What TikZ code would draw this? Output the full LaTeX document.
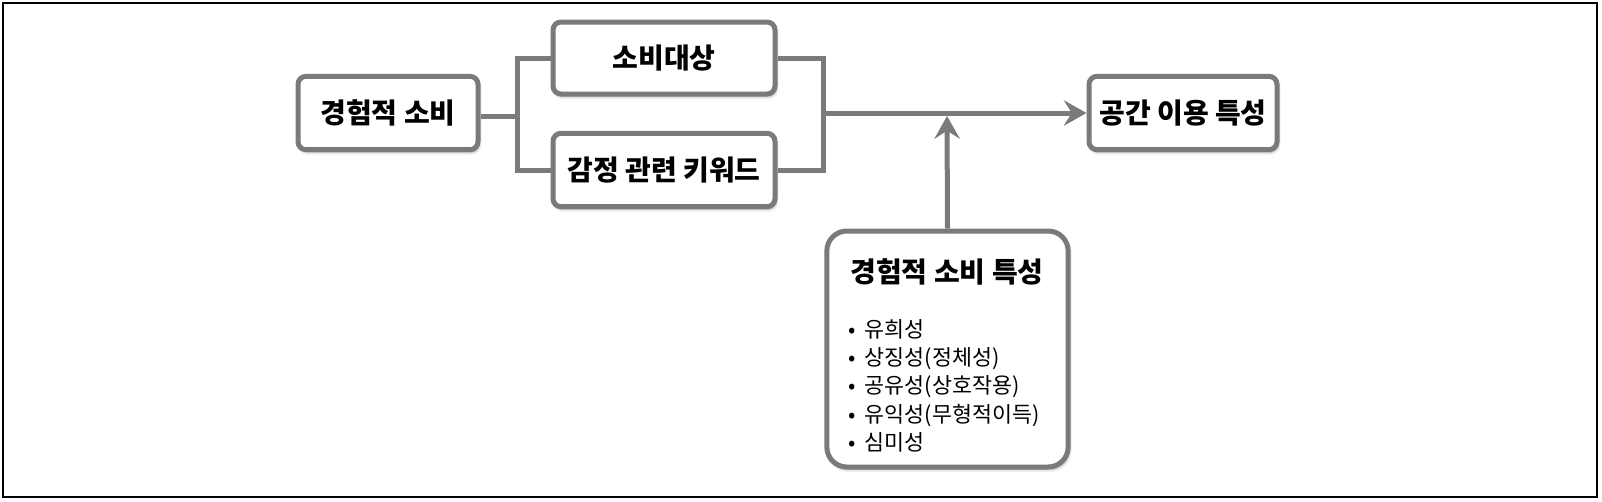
\documentclass[tikz,border=0pt]{standalone}
\usepackage{fontspec}
\setmainfont{Noto Sans CJK KR}
\usetikzlibrary{arrows.meta,shadows.blur}
\definecolor{lg}{HTML}{7A7A7A}
\newcommand{\bul}{•\hspace{7pt}}
\begin{document}
\begin{tikzpicture}[x=0.75pt,y=-0.75pt,
  box/.style={draw=lg, line width=3.75pt, rounded corners=6pt, fill=white,
    blur shadow={shadow xshift=1pt, shadow yshift=-2pt, shadow blur steps=6, shadow opacity=35},
    font=\bfseries\fontsize{21}{24}\selectfont, inner sep=0pt},
  conn/.style={draw=lg, line width=3.75pt, line join=miter},
  arr/.style={conn, -{Stealth[length=17pt,width=19pt,inset=6pt]}},
  title/.style={font=\bfseries\fontsize{21}{24}\selectfont, inner sep=0pt},
  items/.style={font=\fontsize{16.3}{21.2}\selectfont, align=left, inner sep=0pt}]
\useasboundingbox (0,0) rectangle (1602,501);
\draw[line width=1.3pt] (3,3) rectangle (1597,497);
\node[box, minimum width=135pt, minimum height=55pt] (A) at (388,113) {경험적 소비};
\node[box, minimum width=166.5pt, minimum height=54pt] (B) at (664,58) {소비대상};
\node[box, minimum width=166.5pt, minimum height=55pt] (C) at (664,170) {감정 관련 키워드};
\node[box, minimum width=141pt, minimum height=55pt] (D) at (1183,113) {공간 이용 특성};
\node[box, rounded corners=15pt, minimum width=181pt, minimum height=177pt] (E) at (947.5,349) {};
\node[title] (Et) at (947,272) {경험적 소비 특성};
\node[items, anchor=north west] (El) at (848,319) {\bul 유희성\\\bul 상징성(정체성)\\\bul 공유성(상호작용)\\\bul 유익성(무형적이득)\\\bul 심미성};
\coordinate (jl) at (517,116);
\coordinate (jlt) at (517,58);
\coordinate (jlb) at (517,170);
\coordinate (jrt) at (823,58);
\coordinate (jrb) at (823,170);
\coordinate (jr) at (823,113);
\coordinate (jv) at (947,116);
\draw[conn] (A.east |- jl) -- (jl);
\draw[conn] (B.west) -- (jlt) -- (jlb) -- (C.west);
\draw[conn] (B.east) -- (jrt) -- (jrb) -- (C.east);
\draw[arr] (jr) -- (D.west);
\draw[arr] (E.north) -- (jv);
\end{tikzpicture}
\end{document}
